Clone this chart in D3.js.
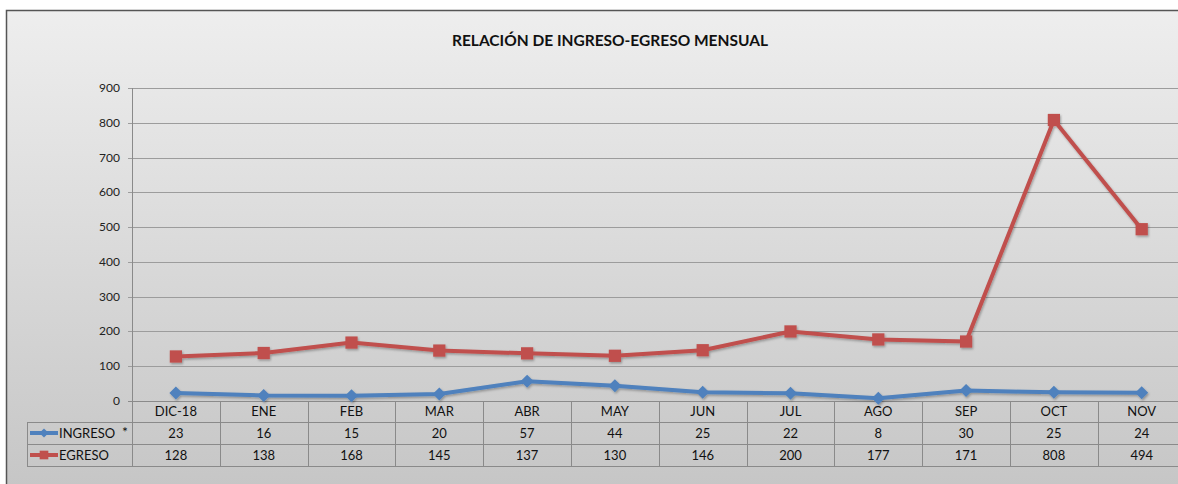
<!DOCTYPE html>
<html>
<head>
<meta charset="utf-8">
<script src="https://cdn.jsdelivr.net/npm/d3@7"></script>
<style>
  body { margin: 0; background: #fff; }
  svg { display: block; font-family: Lato, "Open Sans", sans-serif; }
</style>
</head>
<body>
<svg id="chart" width="1178" height="484"></svg>
<script>
var months = ["DIC-18", "ENE", "FEB", "MAR", "ABR", "MAY", "JUN", "JUL", "AGO", "SEP", "OCT", "NOV"];
var ingreso = [23, 16, 15, 20, 57, 44, 25, 22, 8, 30, 25, 24];
var egreso = [128, 138, 168, 145, 137, 130, 146, 200, 177, 171, 808, 494];
var yTicks = [0, 100, 200, 300, 400, 500, 600, 700, 800, 900];

// diamond = square rotated 45deg, like the Excel marker
var series = [
  { name: "INGRESO", values: ingreso, color: "#4F81BD", rotate: 45, size: 85, note: "*" },
  { name: "EGRESO", values: egreso, color: "#C0504D", rotate: 0, size: 150, note: "" }
];

var svg = d3.select("#chart");

// background gradient
var defs = svg.append("defs");
var grad = defs.append("linearGradient").attr("id", "bg").attr("x1", 0).attr("y1", 0).attr("x2", 0).attr("y2", 1);
grad.append("stop").attr("offset", "0%").attr("stop-color", "#eeeeee");
grad.append("stop").attr("offset", "100%").attr("stop-color", "#c4c4c4");
var shadow = defs.append("filter").attr("id", "sh").attr("x", "-20%").attr("y", "-20%").attr("width", "150%").attr("height", "150%");
shadow.append("feDropShadow").attr("dx", 1).attr("dy", 1.5).attr("stdDeviation", 1).attr("flood-color", "#000").attr("flood-opacity", 0.3);

svg.append("rect")
  .attr("x", 6.5).attr("y", 10.5)
  .attr("width", 1200).attr("height", 500)
  .attr("fill", "url(#bg)")
  .attr("stroke", "#555").attr("stroke-width", 1.5);

svg.append("text")
  .attr("x", 610).attr("y", 46)
  .attr("text-anchor", "middle")
  .attr("font-size", 15.5).attr("font-weight", "bold")
  .attr("fill", "#111")
  .text("RELACIÓN DE INGRESO-EGRESO MENSUAL");

var x = d3.scaleBand().domain(months).range([132, 1185.6]);
var y = d3.scaleLinear().domain([0, 900]).range([401, 88]);

// gridlines + y ticks
var grid = svg.append("g");
grid.selectAll("line.g").data(yTicks.slice(1)).enter().append("line")
  .attr("x1", 128).attr("x2", 1200)
  .attr("y1", function(d){ return Math.round(y(d)) + 0.5; })
  .attr("y2", function(d){ return Math.round(y(d)) + 0.5; })
  .attr("stroke", "#9c9c9c").attr("stroke-width", 1);
grid.selectAll("text").data(yTicks).enter().append("text")
  .attr("x", 120)
  .attr("y", function(d){ return y(d) + 4; })
  .attr("text-anchor", "end")
  .attr("font-size", 12).attr("fill", "#222")
  .text(function(d){ return d; });

// table
var rowY = [401, 422, 444, 466];
var table = svg.append("g").attr("stroke", "#8a8a8a").attr("stroke-width", 1);
table.append("line").attr("x1", 128).attr("x2", 1200).attr("y1", 401.5).attr("y2", 401.5);
rowY.slice(1).forEach(function(ry){
  table.append("line").attr("x1", 27).attr("x2", 1200).attr("y1", ry + 0.5).attr("y2", ry + 0.5);
});
table.append("line").attr("x1", 27.5).attr("x2", 27.5).attr("y1", 422).attr("y2", 466);
table.append("line").attr("x1", 132.5).attr("x2", 132.5).attr("y1", 88).attr("y2", 466);
months.forEach(function(m){
  var bx = Math.round(x(m) + x.bandwidth()) + 0.5;
  table.append("line").attr("x1", bx).attr("x2", bx).attr("y1", 401).attr("y2", 466);
});

var cells = svg.append("g").attr("font-size", 13).attr("fill", "#111").attr("text-anchor", "middle");
months.forEach(function(m, i){
  var cx = x(m) + x.bandwidth() / 2;
  cells.append("text").attr("x", cx).attr("y", 416).text(m);
  series.forEach(function(s, k){
    cells.append("text").attr("x", cx).attr("y", 438 + k * 22).text(s.values[i]);
  });
});

var marker = function(s, scale){
  return d3.symbol().type(d3.symbolSquare).size(s.size * scale)();
};

// legend keys in table
series.forEach(function(s, k){
  var ly = 433 + k * 22;
  var g = svg.append("g");
  g.append("line").attr("x1", 30).attr("x2", 58).attr("y1", ly).attr("y2", ly)
    .attr("stroke", s.color).attr("stroke-width", 4);
  g.append("path").attr("transform", "translate(44," + ly + ") rotate(" + s.rotate + ")")
    .attr("d", marker(s, 0.5))
    .attr("fill", s.color);
  g.append("text").attr("x", 59).attr("y", ly + 5).attr("font-size", 13).attr("fill", "#111").text(s.name);
  if (s.note) g.append("text").attr("x", 122).attr("y", ly + 4).attr("font-size", 14).attr("fill", "#111").text(s.note);
});

// lines
var line = d3.line()
  .x(function(d, i){ return x(months[i]) + x.bandwidth() / 2; })
  .y(function(d){ return y(d); });

series.forEach(function(s){
  var g = svg.append("g").attr("filter", "url(#sh)");
  g.append("path").datum(s.values)
    .attr("d", line)
    .attr("fill", "none")
    .attr("stroke", s.color).attr("stroke-width", 4)
    .attr("stroke-linejoin", "round");
  g.selectAll("path.m").data(s.values).enter().append("path")
    .attr("class", "m")
    .attr("transform", function(d, i){
      return "translate(" + (x(months[i]) + x.bandwidth() / 2) + "," + y(d) + ") rotate(" + s.rotate + ")";
    })
    .attr("d", marker(s, 1))
    .attr("fill", s.color);
});
</script>
</body>
</html>
